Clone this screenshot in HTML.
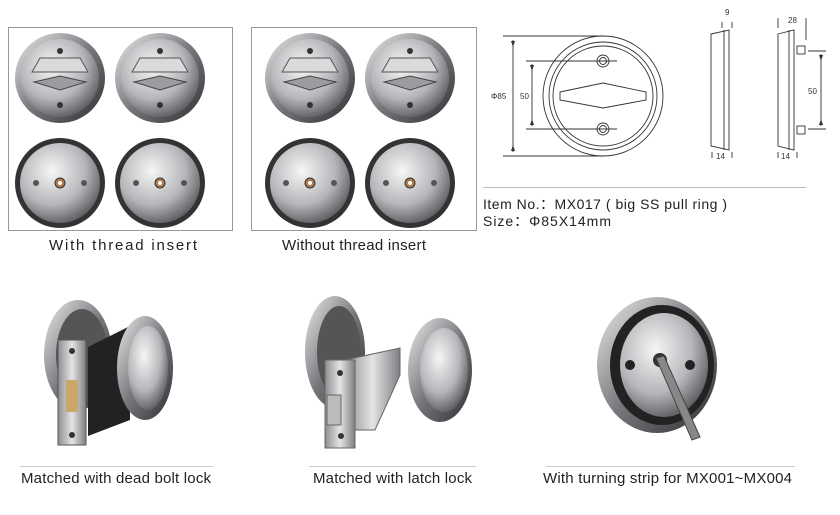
<!DOCTYPE html>
<html><head><style>
body{margin:0;background:#fff;width:840px;height:510px;overflow:hidden;font-family:"Liberation Sans",sans-serif}
</style></head><body>
<svg width="840" height="510" viewBox="0 0 840 510" xmlns="http://www.w3.org/2000/svg" font-family="Liberation Sans, sans-serif">
<defs>
<radialGradient id="met" cx="40%" cy="35%" r="70%"><stop offset="0" stop-color="#f6f6f6"/><stop offset="0.6" stop-color="#b4b6b9"/><stop offset="1" stop-color="#55575b"/></radialGradient>
<linearGradient id="rim" x1="0" y1="0" x2="1" y2="1"><stop offset="0" stop-color="#ececec"/><stop offset="0.5" stop-color="#76787c"/><stop offset="1" stop-color="#2d2f33"/></linearGradient>
<linearGradient id="plate" x1="0" y1="0" x2="1" y2="0"><stop offset="0" stop-color="#8c8e92"/><stop offset="0.5" stop-color="#e4e4e4"/><stop offset="1" stop-color="#7d7f83"/></linearGradient>
<g id="top">
<circle r="45" fill="url(#rim)"/><circle r="39" fill="url(#met)"/>
<path d="M-28,-6 L-20,-20 L20,-20 L28,-6 Z" fill="#d8dadc" stroke="#555" stroke-width="1"/>
<path d="M-26,4 L0,-2 L26,4 L0,12 Z" fill="#9a9ca0" stroke="#444"/>
<circle cy="-27" r="3" fill="#333"/><circle cy="27" r="3" fill="#333"/>
</g>
<g id="bot">
<circle r="45" fill="#333"/><circle r="40" fill="url(#met)"/>
<circle r="5" fill="#b07a4a" stroke="#333"/><circle r="2" fill="#fff"/>
<circle cx="-24" r="3" fill="#555"/><circle cx="24" r="3" fill="#555"/>
</g>
</defs>
<rect x="8.5" y="27.5" width="224" height="203" fill="#fff" stroke="#999"/>
<rect x="251.5" y="27.5" width="225" height="203" fill="#fff" stroke="#999"/>
<use href="#top" x="60" y="78"/><use href="#top" x="160" y="78"/>
<use href="#bot" x="60" y="183"/><use href="#bot" x="160" y="183"/>
<use href="#top" x="310" y="78"/><use href="#top" x="410" y="78"/>
<use href="#bot" x="310" y="183"/><use href="#bot" x="410" y="183"/>
<text x="49" y="250" font-size="15" textLength="148" lengthAdjust="spacing" fill="#222">With thread insert</text>
<text x="282" y="250" font-size="15" textLength="144" lengthAdjust="spacing" fill="#222">Without thread insert</text>
<g fill="none" stroke="#333" stroke-width="0.9">
<circle cx="603" cy="96" r="60"/><circle cx="603" cy="96" r="54"/><circle cx="603" cy="96" r="50"/>
<circle cx="603" cy="61" r="6"/><circle cx="603" cy="61" r="3.5"/>
<circle cx="603" cy="129" r="6"/><circle cx="603" cy="129" r="3.5"/>
<path d="M560,92 L603,83 L646,92 L646,100 L603,108 L560,100 Z"/>
<path d="M503,36 H603 M503,156 H603 M526,61 H617 M526,129 H617"/>
<path d="M513,40 V152 M532,64 V126"/>
<path d="M711,34 L729,30 V150 L711,146 Z M724,30 V150"/>
<path d="M722,22 V28 M732,22 V28 M712,152 V158 M732,152 V158"/>
<path d="M778,34 L794,30 V150 L778,146 Z M789,30 V150"/>
<rect x="797" y="46" width="8" height="8"/><rect x="797" y="126" width="8" height="8"/>
<path d="M778,18 V28 M806,18 V40 M808,51 H826 M808,129 H826 M821,54 V126 M778,152 V158 M797,152 V158"/>
</g>
<g fill="#333"><path d="M511,41 L515,41 L513,47 Z M511,151 L515,151 L513,145 Z M530,65 L534,65 L532,71 Z M530,125 L534,125 L532,119 Z M819,55 L823,55 L821,61 Z M819,125 L823,125 L821,119 Z"/></g>
<g font-size="8" fill="#333">
<text x="491" y="99">Φ85</text><text x="520" y="99">50</text>
<text x="725" y="15">9</text><text x="788" y="23">28</text><text x="808" y="94">50</text>
<text x="716" y="159">14</text><text x="781" y="159">14</text>
</g>
<line x1="483" y1="187.5" x2="806" y2="187.5" stroke="#bbb"/>
<text x="483" y="209" font-size="14" textLength="244" lengthAdjust="spacing" fill="#222">Item No.：MX017 ( big SS pull ring )</text>
<text x="483" y="226" font-size="14" textLength="128" lengthAdjust="spacing" fill="#222">Size：Φ85X14mm</text>
<ellipse cx="78" cy="355" rx="34" ry="55" fill="url(#rim)"/><ellipse cx="82" cy="355" rx="26" ry="46" fill="#555"/>
<path d="M88,347 L130,326 L130,420 L88,436 Z" fill="#222"/>
<ellipse cx="145" cy="368" rx="28" ry="52" fill="url(#rim)"/><ellipse cx="148" cy="368" rx="20" ry="42" fill="url(#met)"/>
<rect x="58" y="340" width="28" height="105" fill="url(#plate)" stroke="#555"/>
<rect x="66" y="380" width="12" height="32" fill="#c9a86a"/>
<circle cx="72" cy="351" r="3" fill="#333"/><circle cx="72" cy="435" r="3" fill="#333"/>
<ellipse cx="335" cy="352" rx="30" ry="56" fill="url(#rim)"/><ellipse cx="339" cy="352" rx="22" ry="46" fill="#555"/>
<path d="M345,360 L400,348 L400,375 L375,430 L345,430 Z" fill="url(#plate)" stroke="#666"/>
<ellipse cx="440" cy="370" rx="32" ry="52" fill="url(#rim)"/><ellipse cx="444" cy="370" rx="24" ry="42" fill="url(#met)"/>
<rect x="325" y="360" width="30" height="88" fill="url(#plate)" stroke="#666"/>
<rect x="327" y="395" width="14" height="30" fill="#bbb" stroke="#666"/>
<circle cx="340" cy="373" r="3" fill="#333"/><circle cx="341" cy="436" r="3" fill="#333"/>
<ellipse cx="657" cy="365" rx="60" ry="68" fill="url(#rim)"/><ellipse cx="662" cy="365" rx="52" ry="60" fill="#222"/><ellipse cx="664" cy="365" rx="44" ry="52" fill="url(#met)"/>
<circle cx="630" cy="365" r="5" fill="#222"/><circle cx="690" cy="365" r="5" fill="#222"/>
<circle cx="660" cy="360" r="7" fill="#333"/>
<path d="M656,358 L664,356 L700,437 L692,440 Z" fill="#888" stroke="#444"/>
<g stroke="#ccc"><line x1="20" y1="466.5" x2="213" y2="466.5"/><line x1="309" y1="466.5" x2="476" y2="466.5"/><line x1="546" y1="466.5" x2="795" y2="466.5"/></g>
<g font-size="15" fill="#222">
<text x="21" y="483" textLength="190" lengthAdjust="spacing">Matched with dead bolt lock</text>
<text x="313" y="483" textLength="159" lengthAdjust="spacing">Matched with latch lock</text>
<text x="543" y="483" textLength="249" lengthAdjust="spacing">With turning strip for MX001~MX004</text>
</g>
</svg>
</body></html>
